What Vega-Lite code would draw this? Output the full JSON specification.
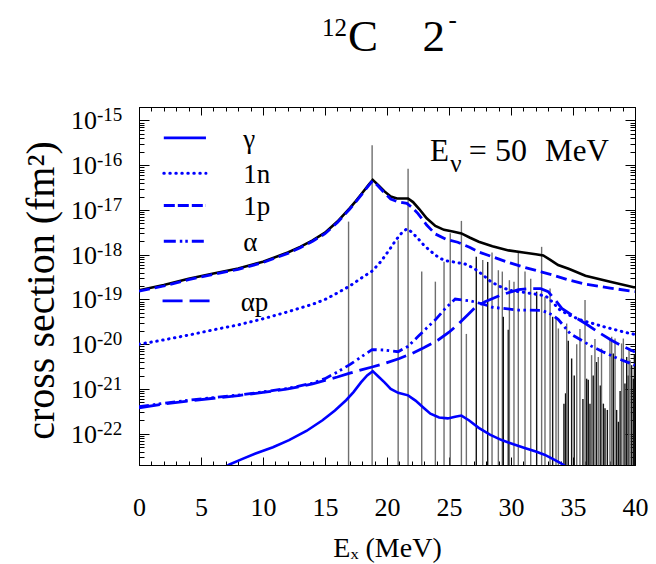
{
  "$schema": "https://vega.github.io/schema/vega-lite/v6.json",
  "width": 496,
  "height": 358,
  "autosize": {"type": "none"},
  "padding": {"left": 139, "top": 107, "right": 21, "bottom": 99},
  "background": "white",
  "config": {
    "view": {"stroke": "#000000", "strokeWidth": 1},
    "axis": {"grid": false, "domainColor": "#000", "tickColor": "#000", "labelColor": "#000", "titleColor": "#000", "labelFont": "Liberation Serif", "titleFont": "Liberation Serif", "labelFlush": false, "labelOverlap": false, "labelBound": false, "domainWidth": 1, "tickWidth": 1, "labelFontWeight": "normal", "titleFontWeight": "normal"},
    "text": {"font": "Liberation Serif", "color": "#000"}
  },
  "datasets": {
    "one": [{}],
    "decades": [
      {"v": 1e-22, "sup": "-22"}, {"v": 1e-21, "sup": "-21"}, {"v": 1e-20, "sup": "-20"}, {"v": 1e-19, "sup": "-19"},
      {"v": 1e-18, "sup": "-18"}, {"v": 1e-17, "sup": "-17"}, {"v": 1e-16, "sup": "-16"}, {"v": 1e-15, "sup": "-15"}
    ],
    "lines": [
      {"E": 16.9, "top": 5.5e-18, "kind": "gray"},
      {"E": 18.8, "top": 2.8e-16, "kind": "gray"},
      {"E": 20.9, "top": 2.1e-18, "kind": "gray"},
      {"E": 21.7, "top": 8.3e-17, "kind": "gray"},
      {"E": 22.8, "top": 4.2e-19, "kind": "gray"},
      {"E": 23.9, "top": 2.5e-19, "kind": "gray"},
      {"E": 24.6, "top": 7e-19, "kind": "gray"},
      {"E": 25.1, "top": 3.0e-18, "kind": "gray"},
      {"E": 26.0, "top": 5.7e-18, "kind": "gray"},
      {"E": 26.4, "top": 1.7e-20, "kind": "gray"},
      {"E": 27.2, "top": 9e-19, "kind": "black"},
      {"E": 27.72, "top": 7.6e-19, "kind": "gray"},
      {"E": 28.12, "top": 6.9e-19, "kind": "black"},
      {"E": 28.47, "top": 1.12e-18, "kind": "gray"},
      {"E": 28.98, "top": 4.5e-19, "kind": "gray"},
      {"E": 29.3, "top": 4.2e-19, "kind": "gray"},
      {"E": 29.38, "top": 4.1e-20, "kind": "black"},
      {"E": 29.78, "top": 2.1e-20, "kind": "black"},
      {"E": 29.87, "top": 2.7e-19, "kind": "gray"},
      {"E": 30.24, "top": 2.5e-19, "kind": "gray"},
      {"E": 30.59, "top": 1.12e-18, "kind": "gray"},
      {"E": 31.13, "top": 4.2e-19, "kind": "gray"},
      {"E": 31.59, "top": 2.9e-19, "kind": "gray"},
      {"E": 32.07, "top": 1.5e-19, "kind": "black"},
      {"E": 32.47, "top": 1.5e-18, "kind": "gray"},
      {"E": 32.74, "top": 1.15e-19, "kind": "gray"},
      {"E": 33.15, "top": 1.76e-19, "kind": "gray"},
      {"E": 33.36, "top": 4.1e-20, "kind": "black"},
      {"E": 33.63, "top": 3.8e-20, "kind": "gray"},
      {"E": 33.82, "top": 2.25e-20, "kind": "gray"},
      {"E": 34.27, "top": 4.7e-22, "kind": "black"},
      {"E": 34.4, "top": 8e-22, "kind": "black"},
      {"E": 34.49, "top": 2.9e-20, "kind": "gray"},
      {"E": 34.62, "top": 1.2e-20, "kind": "black"},
      {"E": 34.89, "top": 4.8e-21, "kind": "black"},
      {"E": 35.1, "top": 2e-21, "kind": "black"},
      {"E": 35.3, "top": 1.0e-20, "kind": "gray"},
      {"E": 35.56, "top": 2.2e-20, "kind": "gray"},
      {"E": 35.8, "top": 6e-22, "kind": "black"},
      {"E": 35.97, "top": 9.7e-20, "kind": "gray"},
      {"E": 36.1, "top": 1.7e-21, "kind": "black"},
      {"E": 36.23, "top": 1.6e-21, "kind": "black"},
      {"E": 36.37, "top": 4.7e-22, "kind": "black"},
      {"E": 36.5, "top": 5.7e-21, "kind": "gray"},
      {"E": 36.63, "top": 2.0e-21, "kind": "black"},
      {"E": 36.77, "top": 1.3e-20, "kind": "gray"},
      {"E": 36.9, "top": 4e-21, "kind": "black"},
      {"E": 37.04, "top": 5.2e-21, "kind": "gray"},
      {"E": 37.2, "top": 1.2e-21, "kind": "black"},
      {"E": 37.3, "top": 8e-21, "kind": "gray"},
      {"E": 37.45, "top": 4.7e-22, "kind": "black"},
      {"E": 37.58, "top": 3.7e-22, "kind": "black"},
      {"E": 37.77, "top": 3.4e-22, "kind": "black"},
      {"E": 37.98, "top": 1.3e-20, "kind": "gray"},
      {"E": 38.12, "top": 1.47e-20, "kind": "gray"},
      {"E": 38.25, "top": 6.2e-21, "kind": "black"},
      {"E": 38.39, "top": 1.34e-20, "kind": "gray"},
      {"E": 38.52, "top": 3.4e-22, "kind": "black"},
      {"E": 38.66, "top": 1.85e-22, "kind": "black"},
      {"E": 38.8, "top": 9e-22, "kind": "black"},
      {"E": 38.92, "top": 1.04e-20, "kind": "gray"},
      {"E": 39.06, "top": 1.34e-20, "kind": "gray"},
      {"E": 39.19, "top": 1.33e-21, "kind": "black"},
      {"E": 39.33, "top": 5.2e-21, "kind": "black"},
      {"E": 39.46, "top": 2.0e-21, "kind": "black"},
      {"E": 39.52, "top": 8e-21, "kind": "gray"},
      {"E": 39.6, "top": 4.4e-21, "kind": "gray"},
      {"E": 39.73, "top": 3.4e-21, "kind": "black"},
      {"E": 39.87, "top": 1.7e-21, "kind": "black"},
      {"E": 39.95, "top": 6e-21, "kind": "black"}
    ],
    "curves": [
      {"s": "total", "E": 0, "v": 1.6e-19}, {"s": "total", "E": 2, "v": 2.1e-19}, {"s": "total", "E": 4, "v": 2.9e-19}, {"s": "total", "E": 6, "v": 3.8e-19}, {"s": "total", "E": 8, "v": 4.9e-19}, {"s": "total", "E": 10, "v": 7.0e-19}, {"s": "total", "E": 12, "v": 1.12e-18}, {"s": "total", "E": 13, "v": 1.5e-18}, {"s": "total", "E": 14, "v": 2.1e-18}, {"s": "total", "E": 15, "v": 3.1e-18}, {"s": "total", "E": 16, "v": 5.5e-18}, {"s": "total", "E": 17, "v": 1.1e-17}, {"s": "total", "E": 17.5, "v": 1.6e-17}, {"s": "total", "E": 18, "v": 2.4e-17}, {"s": "total", "E": 18.5, "v": 3.6e-17}, {"s": "total", "E": 18.85, "v": 4.7e-17}, {"s": "total", "E": 19.3, "v": 3.6e-17}, {"s": "total", "E": 19.8, "v": 2.6e-17}, {"s": "total", "E": 20.3, "v": 2.0e-17}, {"s": "total", "E": 20.8, "v": 1.8e-17}, {"s": "total", "E": 21.7, "v": 1.8e-17}, {"s": "total", "E": 22.1, "v": 1.5e-17}, {"s": "total", "E": 22.6, "v": 1.05e-17}, {"s": "total", "E": 23.2, "v": 6.5e-18}, {"s": "total", "E": 23.9, "v": 4.4e-18}, {"s": "total", "E": 24.6, "v": 3.6e-18}, {"s": "total", "E": 25.3, "v": 3.3e-18}, {"s": "total", "E": 26.0, "v": 3.0e-18}, {"s": "total", "E": 26.7, "v": 2.4e-18}, {"s": "total", "E": 27.4, "v": 1.95e-18}, {"s": "total", "E": 28.5, "v": 1.55e-18}, {"s": "total", "E": 29.8, "v": 1.25e-18}, {"s": "total", "E": 31.0, "v": 1.12e-18}, {"s": "total", "E": 32.0, "v": 1.02e-18}, {"s": "total", "E": 32.6, "v": 9.6e-19}, {"s": "total", "E": 33.2, "v": 7.6e-19}, {"s": "total", "E": 33.8, "v": 5.9e-19}, {"s": "total", "E": 34.7, "v": 4.8e-19}, {"s": "total", "E": 36.0, "v": 3.4e-19}, {"s": "total", "E": 38.0, "v": 2.5e-19}, {"s": "total", "E": 40, "v": 1.85e-19},
      {"s": "1p", "E": 0, "v": 1.54e-19}, {"s": "1p", "E": 2, "v": 2.0e-19}, {"s": "1p", "E": 4, "v": 2.78e-19}, {"s": "1p", "E": 6, "v": 3.63e-19}, {"s": "1p", "E": 8, "v": 4.7e-19}, {"s": "1p", "E": 10, "v": 6.7e-19}, {"s": "1p", "E": 12, "v": 1.07e-18}, {"s": "1p", "E": 13, "v": 1.43e-18}, {"s": "1p", "E": 14, "v": 2.0e-18}, {"s": "1p", "E": 15, "v": 2.95e-18}, {"s": "1p", "E": 16, "v": 5.25e-18}, {"s": "1p", "E": 17, "v": 1.05e-17}, {"s": "1p", "E": 17.5, "v": 1.53e-17}, {"s": "1p", "E": 18, "v": 2.3e-17}, {"s": "1p", "E": 18.5, "v": 3.45e-17}, {"s": "1p", "E": 18.85, "v": 4.5e-17}, {"s": "1p", "E": 19.3, "v": 3.4e-17}, {"s": "1p", "E": 19.8, "v": 2.4e-17}, {"s": "1p", "E": 20.3, "v": 1.75e-17}, {"s": "1p", "E": 20.8, "v": 1.55e-17}, {"s": "1p", "E": 21.6, "v": 1.4e-17}, {"s": "1p", "E": 22.0, "v": 1.15e-17}, {"s": "1p", "E": 22.5, "v": 8.3e-18}, {"s": "1p", "E": 23.2, "v": 4.6e-18}, {"s": "1p", "E": 23.9, "v": 2.9e-18}, {"s": "1p", "E": 24.8, "v": 2.2e-18}, {"s": "1p", "E": 25.7, "v": 1.9e-18}, {"s": "1p", "E": 26.7, "v": 1.45e-18}, {"s": "1p", "E": 27.4, "v": 1.15e-18}, {"s": "1p", "E": 28.5, "v": 9e-19}, {"s": "1p", "E": 29.8, "v": 6.7e-19}, {"s": "1p", "E": 31.0, "v": 5.3e-19}, {"s": "1p", "E": 32.5, "v": 4.1e-19}, {"s": "1p", "E": 33.4, "v": 3.5e-19}, {"s": "1p", "E": 34.5, "v": 2.8e-19}, {"s": "1p", "E": 36, "v": 2.2e-19}, {"s": "1p", "E": 38, "v": 1.8e-19}, {"s": "1p", "E": 40, "v": 1.5e-19},
      {"s": "1n", "E": 0, "v": 1.0e-20}, {"s": "1n", "E": 2, "v": 1.25e-20}, {"s": "1n", "E": 4, "v": 1.6e-20}, {"s": "1n", "E": 6, "v": 2.1e-20}, {"s": "1n", "E": 8, "v": 2.7e-20}, {"s": "1n", "E": 10, "v": 3.7e-20}, {"s": "1n", "E": 12, "v": 5.3e-20}, {"s": "1n", "E": 14, "v": 7.8e-20}, {"s": "1n", "E": 15, "v": 1.0e-19}, {"s": "1n", "E": 16, "v": 1.4e-19}, {"s": "1n", "E": 17, "v": 2.0e-19}, {"s": "1n", "E": 18, "v": 3.1e-19}, {"s": "1n", "E": 18.8, "v": 4.3e-19}, {"s": "1n", "E": 19.5, "v": 7e-19}, {"s": "1n", "E": 20.2, "v": 1.3e-18}, {"s": "1n", "E": 20.7, "v": 2.1e-18}, {"s": "1n", "E": 21.2, "v": 3.1e-18}, {"s": "1n", "E": 21.6, "v": 3.8e-18}, {"s": "1n", "E": 22.0, "v": 3.2e-18}, {"s": "1n", "E": 22.5, "v": 2.3e-18}, {"s": "1n", "E": 23.0, "v": 1.6e-18}, {"s": "1n", "E": 23.6, "v": 1.15e-18}, {"s": "1n", "E": 24.2, "v": 8.5e-19}, {"s": "1n", "E": 24.7, "v": 7.4e-19}, {"s": "1n", "E": 25.5, "v": 6.8e-19}, {"s": "1n", "E": 26.3, "v": 6.2e-19}, {"s": "1n", "E": 27.0, "v": 5.0e-19}, {"s": "1n", "E": 27.7, "v": 3.6e-19}, {"s": "1n", "E": 28.3, "v": 2.6e-19}, {"s": "1n", "E": 29.0, "v": 2.0e-19}, {"s": "1n", "E": 29.9, "v": 1.6e-19}, {"s": "1n", "E": 31.0, "v": 1.45e-19}, {"s": "1n", "E": 32.1, "v": 1.3e-19}, {"s": "1n", "E": 32.8, "v": 1.2e-19}, {"s": "1n", "E": 33.3, "v": 9e-20}, {"s": "1n", "E": 33.9, "v": 6e-20}, {"s": "1n", "E": 34.6, "v": 4.6e-20}, {"s": "1n", "E": 35.6, "v": 3.5e-20}, {"s": "1n", "E": 37.4, "v": 2.5e-20}, {"s": "1n", "E": 39, "v": 1.9e-20}, {"s": "1n", "E": 40, "v": 1.65e-20},
      {"s": "a", "E": 0, "v": 4.0e-22}, {"s": "a", "E": 2, "v": 4.8e-22}, {"s": "a", "E": 4, "v": 5.6e-22}, {"s": "a", "E": 6, "v": 6.4e-22}, {"s": "a", "E": 8, "v": 7.3e-22}, {"s": "a", "E": 10, "v": 8.6e-22}, {"s": "a", "E": 12, "v": 1.03e-21}, {"s": "a", "E": 14, "v": 1.35e-21}, {"s": "a", "E": 15, "v": 1.7e-21}, {"s": "a", "E": 16, "v": 2.4e-21}, {"s": "a", "E": 17, "v": 3.5e-21}, {"s": "a", "E": 18, "v": 5.4e-21}, {"s": "a", "E": 18.8, "v": 7.6e-21}, {"s": "a", "E": 19.8, "v": 7.4e-21}, {"s": "a", "E": 20.9, "v": 6.8e-21}, {"s": "a", "E": 21.7, "v": 9e-21}, {"s": "a", "E": 22.5, "v": 1.48e-20}, {"s": "a", "E": 23.2, "v": 2.3e-20}, {"s": "a", "E": 23.9, "v": 3.5e-20}, {"s": "a", "E": 24.7, "v": 6.3e-20}, {"s": "a", "E": 25.5, "v": 1.02e-19}, {"s": "a", "E": 26.8, "v": 9.2e-20}, {"s": "a", "E": 27.8, "v": 7.8e-20}, {"s": "a", "E": 28.5, "v": 6.7e-20}, {"s": "a", "E": 30.6, "v": 5.8e-20}, {"s": "a", "E": 32.5, "v": 5.7e-20}, {"s": "a", "E": 33.3, "v": 4.6e-20}, {"s": "a", "E": 33.8, "v": 3.6e-20}, {"s": "a", "E": 34.8, "v": 1.7e-20}, {"s": "a", "E": 36.5, "v": 9e-21}, {"s": "a", "E": 37.4, "v": 6.8e-21}, {"s": "a", "E": 38.6, "v": 4.8e-21}, {"s": "a", "E": 40, "v": 3.4e-21},
      {"s": "ap", "E": 0, "v": 3.8e-22}, {"s": "ap", "E": 2, "v": 4.6e-22}, {"s": "ap", "E": 4, "v": 5.4e-22}, {"s": "ap", "E": 6, "v": 6.2e-22}, {"s": "ap", "E": 8, "v": 7.1e-22}, {"s": "ap", "E": 10, "v": 8.4e-22}, {"s": "ap", "E": 12, "v": 1.0e-21}, {"s": "ap", "E": 14, "v": 1.3e-21}, {"s": "ap", "E": 15, "v": 1.55e-21}, {"s": "ap", "E": 16, "v": 1.85e-21}, {"s": "ap", "E": 17, "v": 2.25e-21}, {"s": "ap", "E": 18, "v": 2.7e-21}, {"s": "ap", "E": 18.8, "v": 3.1e-21}, {"s": "ap", "E": 19.8, "v": 3.7e-21}, {"s": "ap", "E": 21, "v": 4.8e-21}, {"s": "ap", "E": 22, "v": 6.2e-21}, {"s": "ap", "E": 23, "v": 8.5e-21}, {"s": "ap", "E": 24.1, "v": 1.23e-20}, {"s": "ap", "E": 25, "v": 1.85e-20}, {"s": "ap", "E": 25.8, "v": 2.9e-20}, {"s": "ap", "E": 26.5, "v": 4.5e-20}, {"s": "ap", "E": 27.1, "v": 6.6e-20}, {"s": "ap", "E": 27.9, "v": 8.9e-20}, {"s": "ap", "E": 29.2, "v": 1.26e-19}, {"s": "ap", "E": 30.6, "v": 1.66e-19}, {"s": "ap", "E": 31.5, "v": 1.75e-19}, {"s": "ap", "E": 32.4, "v": 1.75e-19}, {"s": "ap", "E": 33.0, "v": 1.5e-19}, {"s": "ap", "E": 33.6, "v": 9.5e-20}, {"s": "ap", "E": 34.1, "v": 6.3e-20}, {"s": "ap", "E": 35, "v": 4.3e-20}, {"s": "ap", "E": 36, "v": 2.9e-20}, {"s": "ap", "E": 37, "v": 1.9e-20}, {"s": "ap", "E": 38.1, "v": 1.23e-20}, {"s": "ap", "E": 39, "v": 9e-21}, {"s": "ap", "E": 40, "v": 6.7e-21},
      {"s": "g", "E": 6.8, "v": 1.7e-23}, {"s": "g", "E": 7.3, "v": 2.05e-23}, {"s": "g", "E": 8.3, "v": 2.7e-23}, {"s": "g", "E": 9.4, "v": 3.6e-23}, {"s": "g", "E": 10.8, "v": 5.0e-23}, {"s": "g", "E": 12.1, "v": 7.2e-23}, {"s": "g", "E": 13.5, "v": 1.15e-22}, {"s": "g", "E": 14.8, "v": 2.0e-22}, {"s": "g", "E": 15.8, "v": 3.3e-22}, {"s": "g", "E": 16.7, "v": 5.6e-22}, {"s": "g", "E": 17.3, "v": 8.5e-22}, {"s": "g", "E": 17.9, "v": 1.4e-21}, {"s": "g", "E": 18.4, "v": 2.0e-21}, {"s": "g", "E": 18.85, "v": 2.5e-21}, {"s": "g", "E": 19.3, "v": 1.9e-21}, {"s": "g", "E": 19.8, "v": 1.4e-21}, {"s": "g", "E": 20.3, "v": 1.0e-21}, {"s": "g", "E": 20.9, "v": 8.2e-22}, {"s": "g", "E": 21.7, "v": 7.2e-22}, {"s": "g", "E": 22.3, "v": 5.5e-22}, {"s": "g", "E": 22.9, "v": 3.9e-22}, {"s": "g", "E": 23.5, "v": 2.8e-22}, {"s": "g", "E": 24.2, "v": 2.3e-22}, {"s": "g", "E": 24.9, "v": 2.2e-22}, {"s": "g", "E": 25.5, "v": 2.4e-22}, {"s": "g", "E": 26.0, "v": 2.55e-22}, {"s": "g", "E": 26.6, "v": 2.0e-22}, {"s": "g", "E": 27.4, "v": 1.35e-22}, {"s": "g", "E": 28.3, "v": 9.5e-23}, {"s": "g", "E": 29.2, "v": 7.3e-23}, {"s": "g", "E": 30.2, "v": 5.8e-23}, {"s": "g", "E": 31.1, "v": 4.8e-23}, {"s": "g", "E": 32.0, "v": 4.0e-23}, {"s": "g", "E": 32.7, "v": 3.4e-23}, {"s": "g", "E": 33.4, "v": 2.7e-23}, {"s": "g", "E": 34.0, "v": 2.2e-23}, {"s": "g", "E": 34.5, "v": 1.8e-23}
    ]
  },
  "resolve": {"axis": {"x": "independent", "y": "independent"}},
  "layer": [
    {
      "data": {"name": "lines"},
      "mark": {"type": "rule", "clip": true, "strokeWidth": 1.4},
      "encoding": {
        "x": {"field": "E", "type": "quantitative", "scale": {"domain": [0, 40], "nice": false, "zero": false},
          "axis": {"orient": "bottom", "values": [0, 5, 10, 15, 20, 25, 30, 35, 40], "ticks": false, "domain": false, "labelFontSize": 26, "labelPadding": 50, "labelBaseline": "alphabetic", "title": "Eₓ (MeV)", "titleFontSize": 28, "titleX": 248, "titleY": 91, "titleBaseline": "alphabetic"}},
        "y": {"field": "top", "type": "quantitative", "scale": {"type": "log", "domain": [2e-23, 2e-15], "nice": false},
          "axis": {"orient": "left", "values": [1e-15], "ticks": false, "domain": false, "labels": false, "title": "cross section (fm²)", "titleFontSize": 40, "titleAngle": -90, "titleX": -86, "titleY": 183, "titleBaseline": "alphabetic", "titleAlign": "center"}},
        "y2": {"datum": 2e-23},
        "color": {"field": "kind", "type": "nominal", "scale": {"domain": ["gray", "black"], "range": ["#6e6e6e", "#111111"]}, "legend": null}
      }
    },
    {
      "data": {"name": "curves"},
      "transform": [{"filter": "datum.s === 'total'"}],
      "mark": {"type": "line", "clip": true, "color": "#000000", "strokeWidth": 2.6},
      "encoding": {
        "x": {"field": "E", "type": "quantitative", "scale": {"domain": [0, 40], "nice": false, "zero": false},
          "axis": {"orient": "bottom", "values": [0, 5, 10, 15, 20, 25, 30, 35, 40], "offset": -8, "tickSize": 8, "labels": false, "domain": false, "title": null}},
        "y": {"field": "v", "type": "quantitative", "scale": {"type": "log", "domain": [2e-23, 2e-15], "nice": false},
          "axis": {"orient": "left", "values": [1e-22, 1e-21, 1e-20, 1e-19, 1e-18, 1e-17, 1e-16, 1e-15], "offset": -10, "tickSize": 10, "labels": false, "domain": false, "title": null}}
      }
    },
    {
      "data": {"name": "curves"},
      "transform": [{"filter": "datum.s === '1p'"}],
      "mark": {"type": "line", "clip": true, "color": "#0000ff", "strokeWidth": 2.8, "strokeDash": [11, 5]},
      "encoding": {
        "x": {"field": "E", "type": "quantitative", "scale": {"domain": [0, 40], "nice": false, "zero": false},
          "axis": {"orient": "bottom", "values": [0,1,2,3,4,5,6,7,8,9,10,11,12,13,14,15,16,17,18,19,20,21,22,23,24,25,26,27,28,29,30,31,32,33,34,35,36,37,38,39,40], "offset": -4, "tickSize": 4, "labels": false, "domain": false, "title": null}},
        "y": {"field": "v", "type": "quantitative", "scale": {"type": "log", "domain": [2e-23, 2e-15], "nice": false},
          "axis": {"orient": "left", "values": [2e-23,3e-23,4e-23,5e-23,6e-23,7e-23,8e-23,9e-23,2e-22,3e-22,4e-22,5e-22,6e-22,7e-22,8e-22,9e-22,2e-21,3e-21,4e-21,5e-21,6e-21,7e-21,8e-21,9e-21,2e-20,3e-20,4e-20,5e-20,6e-20,7e-20,8e-20,9e-20,2e-19,3e-19,4e-19,5e-19,6e-19,7e-19,8e-19,9e-19,2e-18,3e-18,4e-18,5e-18,6e-18,7e-18,8e-18,9e-18,2e-17,3e-17,4e-17,5e-17,6e-17,7e-17,8e-17,9e-17,2e-16,3e-16,4e-16,5e-16,6e-16,7e-16,8e-16,9e-16,2e-15], "offset": -5, "tickSize": 5, "labels": false, "domain": false, "title": null}}
      }
    },
    {
      "data": {"name": "curves"},
      "transform": [{"filter": "datum.s === '1n'"}],
      "mark": {"type": "line", "clip": true, "color": "#0000ff", "strokeWidth": 3, "strokeDash": [0.5, 5.5], "strokeCap": "round"},
      "encoding": {
        "x": {"field": "E", "type": "quantitative", "scale": {"domain": [0, 40], "nice": false, "zero": false},
          "axis": {"orient": "top", "values": [0, 5, 10, 15, 20, 25, 30, 35, 40], "offset": -8, "tickSize": 8, "labels": false, "domain": false, "title": null}},
        "y": {"field": "v", "type": "quantitative", "scale": {"type": "log", "domain": [2e-23, 2e-15], "nice": false},
          "axis": {"orient": "right", "values": [1e-22, 1e-21, 1e-20, 1e-19, 1e-18, 1e-17, 1e-16, 1e-15], "offset": -10, "tickSize": 10, "labels": false, "domain": false, "title": null}}
      }
    },
    {
      "data": {"name": "curves"},
      "transform": [{"filter": "datum.s === 'a'"}],
      "mark": {"type": "line", "clip": true, "color": "#0000ff", "strokeWidth": 2.8, "strokeDash": [10, 4, 2.5, 3.5, 2.5, 4]},
      "encoding": {
        "x": {"field": "E", "type": "quantitative", "scale": {"domain": [0, 40], "nice": false, "zero": false},
          "axis": {"orient": "top", "values": [0,1,2,3,4,5,6,7,8,9,10,11,12,13,14,15,16,17,18,19,20,21,22,23,24,25,26,27,28,29,30,31,32,33,34,35,36,37,38,39,40], "offset": -4, "tickSize": 4, "labels": false, "domain": false, "title": null}},
        "y": {"field": "v", "type": "quantitative", "scale": {"type": "log", "domain": [2e-23, 2e-15], "nice": false},
          "axis": {"orient": "right", "values": [2e-23,3e-23,4e-23,5e-23,6e-23,7e-23,8e-23,9e-23,2e-22,3e-22,4e-22,5e-22,6e-22,7e-22,8e-22,9e-22,2e-21,3e-21,4e-21,5e-21,6e-21,7e-21,8e-21,9e-21,2e-20,3e-20,4e-20,5e-20,6e-20,7e-20,8e-20,9e-20,2e-19,3e-19,4e-19,5e-19,6e-19,7e-19,8e-19,9e-19,2e-18,3e-18,4e-18,5e-18,6e-18,7e-18,8e-18,9e-18,2e-17,3e-17,4e-17,5e-17,6e-17,7e-17,8e-17,9e-17,2e-16,3e-16,4e-16,5e-16,6e-16,7e-16,8e-16,9e-16,2e-15], "offset": -5, "tickSize": 5, "labels": false, "domain": false, "title": null}}
      }
    },
    {
      "data": {"name": "curves"},
      "transform": [{"filter": "datum.s === 'ap'"}],
      "mark": {"type": "line", "clip": true, "color": "#0000ff", "strokeWidth": 2.8, "strokeDash": [21, 7]},
      "encoding": {
        "x": {"field": "E", "type": "quantitative", "scale": {"domain": [0, 40], "nice": false, "zero": false}, "axis": null},
        "y": {"field": "v", "type": "quantitative", "scale": {"type": "log", "domain": [2e-23, 2e-15], "nice": false}, "axis": null}
      }
    },
    {
      "data": {"name": "curves"},
      "transform": [{"filter": "datum.s === 'g'"}],
      "mark": {"type": "line", "clip": true, "color": "#0000ff", "strokeWidth": 2.6},
      "encoding": {
        "x": {"field": "E", "type": "quantitative", "scale": {"domain": [0, 40], "nice": false, "zero": false}, "axis": null},
        "y": {"field": "v", "type": "quantitative", "scale": {"type": "log", "domain": [2e-23, 2e-15], "nice": false}, "axis": null}
      }
    },
    {
      "data": {"name": "decades"},
      "mark": {"type": "text", "text": "10", "fontSize": 26, "align": "right", "baseline": "alphabetic", "dy": 9},
      "encoding": {
        "x": {"datum": -3.39, "type": "quantitative", "scale": {"domain": [0, 40], "nice": false, "zero": false}, "axis": null},
        "y": {"field": "v", "type": "quantitative", "scale": {"type": "log", "domain": [2e-23, 2e-15], "nice": false}, "axis": null}
      }
    },
    {
      "data": {"name": "decades"},
      "mark": {"type": "text", "fontSize": 19, "align": "left", "baseline": "alphabetic", "dy": 1},
      "encoding": {
        "x": {"datum": -3.39, "type": "quantitative", "scale": {"domain": [0, 40], "nice": false, "zero": false}, "axis": null},
        "y": {"field": "v", "type": "quantitative", "scale": {"type": "log", "domain": [2e-23, 2e-15], "nice": false}, "axis": null},
        "text": {"field": "sup"}
      }
    },
    {
      "data": {"name": "one"},
      "mark": {"type": "rule", "color": "#0000ff", "strokeWidth": 2.8},
      "encoding": {
        "x": {"datum": 2.0, "type": "quantitative", "scale": {"domain": [0, 40], "nice": false, "zero": false}, "axis": null},
        "x2": {"datum": 5.4},
        "y": {"datum": 4.1e-16, "type": "quantitative", "scale": {"type": "log", "domain": [2e-23, 2e-15], "nice": false}, "axis": null}
      }
    },
    {
      "data": {"name": "one"},
      "mark": {"type": "rule", "color": "#0000ff", "strokeWidth": 3, "strokeDash": [0.5, 5.5], "strokeCap": "round"},
      "encoding": {
        "x": {"datum": 2.0, "type": "quantitative", "scale": {"domain": [0, 40], "nice": false, "zero": false}, "axis": null},
        "x2": {"datum": 5.4},
        "y": {"datum": 6.6e-17, "type": "quantitative", "scale": {"type": "log", "domain": [2e-23, 2e-15], "nice": false}, "axis": null}
      }
    },
    {
      "data": {"name": "one"},
      "mark": {"type": "rule", "color": "#0000ff", "strokeWidth": 2.8, "strokeDash": [11, 3]},
      "encoding": {
        "x": {"datum": 2.0, "type": "quantitative", "scale": {"domain": [0, 40], "nice": false, "zero": false}, "axis": null},
        "x2": {"datum": 5.4},
        "y": {"datum": 1.26e-17, "type": "quantitative", "scale": {"type": "log", "domain": [2e-23, 2e-15], "nice": false}, "axis": null}
      }
    },
    {
      "data": {"name": "one"},
      "mark": {"type": "rule", "color": "#0000ff", "strokeWidth": 2.8, "strokeDash": [12, 4, 2.5, 3, 2.5, 4]},
      "encoding": {
        "x": {"datum": 2.0, "type": "quantitative", "scale": {"domain": [0, 40], "nice": false, "zero": false}, "axis": null},
        "x2": {"datum": 5.4},
        "y": {"datum": 2.0e-18, "type": "quantitative", "scale": {"type": "log", "domain": [2e-23, 2e-15], "nice": false}, "axis": null}
      }
    },
    {
      "data": {"name": "one"},
      "mark": {"type": "rule", "color": "#0000ff", "strokeWidth": 2.8, "strokeDash": [20, 7]},
      "encoding": {
        "x": {"datum": 1.9, "type": "quantitative", "scale": {"domain": [0, 40], "nice": false, "zero": false}, "axis": null},
        "x2": {"datum": 6.2},
        "y": {"datum": 9.3e-20, "type": "quantitative", "scale": {"type": "log", "domain": [2e-23, 2e-15], "nice": false}, "axis": null}
      }
    },
    {
      "data": {"name": "one"},
      "mark": {"type": "text", "text": "γ", "fontSize": 27, "align": "left", "baseline": "middle", "dy": 2},
      "encoding": {
        "x": {"datum": 8.4, "type": "quantitative", "scale": {"domain": [0, 40], "nice": false, "zero": false}, "axis": null},
        "y": {"datum": 4.1e-16, "type": "quantitative", "scale": {"type": "log", "domain": [2e-23, 2e-15], "nice": false}, "axis": null}
      }
    },
    {
      "data": {"name": "one"},
      "mark": {"type": "text", "text": "1n", "fontSize": 27, "align": "left", "baseline": "middle", "dy": 2},
      "encoding": {
        "x": {"datum": 8.4, "type": "quantitative", "scale": {"domain": [0, 40], "nice": false, "zero": false}, "axis": null},
        "y": {"datum": 6.6e-17, "type": "quantitative", "scale": {"type": "log", "domain": [2e-23, 2e-15], "nice": false}, "axis": null}
      }
    },
    {
      "data": {"name": "one"},
      "mark": {"type": "text", "text": "1p", "fontSize": 27, "align": "left", "baseline": "middle", "dy": 2},
      "encoding": {
        "x": {"datum": 8.4, "type": "quantitative", "scale": {"domain": [0, 40], "nice": false, "zero": false}, "axis": null},
        "y": {"datum": 1.26e-17, "type": "quantitative", "scale": {"type": "log", "domain": [2e-23, 2e-15], "nice": false}, "axis": null}
      }
    },
    {
      "data": {"name": "one"},
      "mark": {"type": "text", "text": "α", "fontSize": 27, "align": "left", "baseline": "middle", "dy": 2},
      "encoding": {
        "x": {"datum": 8.4, "type": "quantitative", "scale": {"domain": [0, 40], "nice": false, "zero": false}, "axis": null},
        "y": {"datum": 2.0e-18, "type": "quantitative", "scale": {"type": "log", "domain": [2e-23, 2e-15], "nice": false}, "axis": null}
      }
    },
    {
      "data": {"name": "one"},
      "mark": {"type": "text", "text": "αp", "fontSize": 27, "align": "left", "baseline": "middle", "dy": 2},
      "encoding": {
        "x": {"datum": 8.2, "type": "quantitative", "scale": {"domain": [0, 40], "nice": false, "zero": false}, "axis": null},
        "y": {"datum": 9.3e-20, "type": "quantitative", "scale": {"type": "log", "domain": [2e-23, 2e-15], "nice": false}, "axis": null}
      }
    },
    {
      "data": {"name": "one"},
      "mark": {"type": "text", "text": "E", "fontSize": 31, "align": "left", "baseline": "alphabetic"},
      "encoding": {
        "x": {"datum": 23.47, "type": "quantitative", "scale": {"domain": [0, 40], "nice": false, "zero": false}, "axis": null},
        "y": {"datum": 1.23e-16, "type": "quantitative", "scale": {"type": "log", "domain": [2e-23, 2e-15], "nice": false}, "axis": null}
      }
    },
    {
      "data": {"name": "one"},
      "mark": {"type": "text", "text": "ν", "fontSize": 25, "align": "left", "baseline": "alphabetic"},
      "encoding": {
        "x": {"datum": 25.1, "type": "quantitative", "scale": {"domain": [0, 40], "nice": false, "zero": false}, "axis": null},
        "y": {"datum": 7.2e-17, "type": "quantitative", "scale": {"type": "log", "domain": [2e-23, 2e-15], "nice": false}, "axis": null}
      }
    },
    {
      "data": {"name": "one"},
      "mark": {"type": "text", "text": "= 50", "fontSize": 32, "align": "left", "baseline": "alphabetic"},
      "encoding": {
        "x": {"datum": 26.6, "type": "quantitative", "scale": {"domain": [0, 40], "nice": false, "zero": false}, "axis": null},
        "y": {"datum": 1.23e-16, "type": "quantitative", "scale": {"type": "log", "domain": [2e-23, 2e-15], "nice": false}, "axis": null}
      }
    },
    {
      "data": {"name": "one"},
      "mark": {"type": "text", "text": "MeV", "fontSize": 31, "align": "left", "baseline": "alphabetic"},
      "encoding": {
        "x": {"datum": 32.75, "type": "quantitative", "scale": {"domain": [0, 40], "nice": false, "zero": false}, "axis": null},
        "y": {"datum": 1.23e-16, "type": "quantitative", "scale": {"type": "log", "domain": [2e-23, 2e-15], "nice": false}, "axis": null}
      }
    },
    {
      "data": {"name": "one"},
      "mark": {"type": "text", "text": "12", "fontSize": 25, "align": "left", "baseline": "alphabetic"},
      "encoding": {
        "x": {"datum": 14.76, "type": "quantitative", "scale": {"domain": [0, 40], "nice": false, "zero": false}, "axis": null},
        "y": {"datum": 7.9e-14, "type": "quantitative", "scale": {"type": "log", "domain": [2e-23, 2e-15], "nice": false}, "axis": null}
      }
    },
    {
      "data": {"name": "one"},
      "mark": {"type": "text", "text": "C", "fontSize": 45, "align": "left", "baseline": "alphabetic"},
      "encoding": {
        "x": {"datum": 16.85, "type": "quantitative", "scale": {"domain": [0, 40], "nice": false, "zero": false}, "axis": null},
        "y": {"datum": 3.66e-14, "type": "quantitative", "scale": {"type": "log", "domain": [2e-23, 2e-15], "nice": false}, "axis": null}
      }
    },
    {
      "data": {"name": "one"},
      "mark": {"type": "text", "text": "2", "fontSize": 45, "align": "left", "baseline": "alphabetic"},
      "encoding": {
        "x": {"datum": 22.86, "type": "quantitative", "scale": {"domain": [0, 40], "nice": false, "zero": false}, "axis": null},
        "y": {"datum": 3.66e-14, "type": "quantitative", "scale": {"type": "log", "domain": [2e-23, 2e-15], "nice": false}, "axis": null}
      }
    },
    {
      "data": {"name": "one"},
      "mark": {"type": "text", "text": "-", "fontSize": 25, "align": "left", "baseline": "alphabetic"},
      "encoding": {
        "x": {"datum": 24.95, "type": "quantitative", "scale": {"domain": [0, 40], "nice": false, "zero": false}, "axis": null},
        "y": {"datum": 1.14e-13, "type": "quantitative", "scale": {"type": "log", "domain": [2e-23, 2e-15], "nice": false}, "axis": null}
      }
    }
  ]
}
